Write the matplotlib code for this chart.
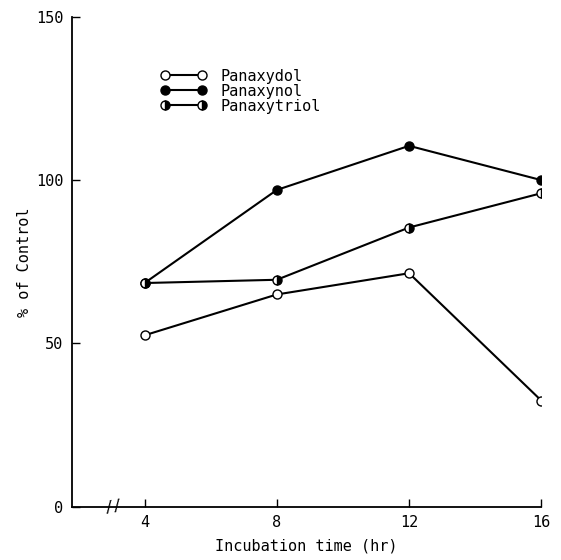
import matplotlib.pyplot as plt

hours = [4, 8, 12, 16]
panaxydol = [52.5, 65, 71.5, 32.5]
panaxynol = [68.5, 97, 110.5, 100]
panaxytriol = [68.5, 69.5, 85.5, 96]

plt.rcParams['font.family'] = ['DejaVu Sans Mono']

fig = plt.figure(figsize=(5.61, 5.6), dpi=100)
ax = fig.add_axes([0.128, 0.095, 0.837, 0.875])

ax.plot(hours, panaxydol, color="black", lw=1.5, marker="o", ms=6.5,
        mfc="white", mec="black", mew=1.0, label="Panaxydol")
ax.plot(hours, panaxynol, color="black", lw=1.5, marker="o", ms=6.5,
        mfc="black", mec="black", label="Panaxynol")
ax.plot(hours, panaxytriol, color="black", lw=1.5, marker="o", ms=6.5,
        fillstyle="right", mfc="black", mfcalt="white", mec="black", mew=1.0,
        label="Panaxytriol")

ax.set_xlim(1.8, 16)
ax.set_ylim(0, 150)
ax.set_xticks(hours)
ax.set_yticks([0, 50, 100, 150])
ax.tick_params(direction="in", length=6, width=1, labelsize=11, pad=6)
ax.spines["top"].set_visible(False)
ax.spines["right"].set_visible(False)
for s in ["left", "bottom"]:
    ax.spines[s].set_linewidth(1.3)

# axis break marks
ax.text(3.05, 0, "//", ha="center", va="center", fontsize=11, rotation=10)

ax.set_xlabel("Incubation time (hr)", fontsize=11, labelpad=6)
ax.set_ylabel("% of Control", fontsize=11, labelpad=3)

ax.legend(loc="upper left", bbox_to_anchor=(0.16, 0.922), frameon=False,
          fontsize=11, numpoints=2, handlelength=3.0, labelspacing=0.0,
          handletextpad=0.9)

fig.savefig("out.png", dpi=100)
